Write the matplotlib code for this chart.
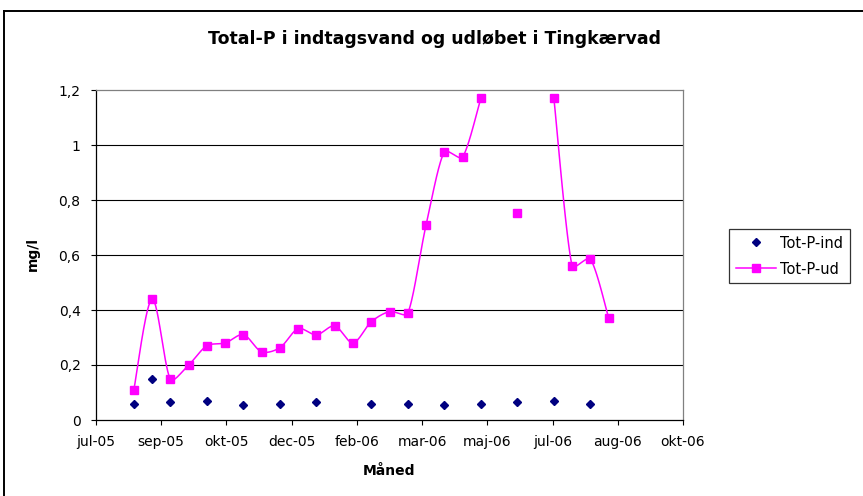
import numpy as np
import pandas as pd
import matplotlib
matplotlib.use("Agg")
import matplotlib.pyplot as plt
import matplotlib.dates as mdates
from matplotlib.lines import Line2D

# --- Data ---
TITLE = "Total-P i indtagsvand og udløbet i Tingkærvad"
X_LABEL = "Måned"
Y_LABEL = "mg/l"

ind_dates = ["2005-08-18", "2005-09-01", "2005-09-15", "2005-10-13", "2005-11-10",
             "2005-12-08", "2006-01-05", "2006-02-16", "2006-03-16", "2006-04-13",
             "2006-05-11", "2006-06-08", "2006-07-06", "2006-08-03"]
ind_values = [0.06, 0.15, 0.065, 0.07, 0.055, 0.06, 0.065, 0.06, 0.06, 0.055,
              0.06, 0.065, 0.07, 0.06]

ud_dates = ["2005-08-18", "2005-09-01", "2005-09-15", "2005-09-29", "2005-10-13",
            "2005-10-27", "2005-11-10", "2005-11-24", "2005-12-08", "2005-12-22",
            "2006-01-05", "2006-01-19", "2006-02-02", "2006-02-16", "2006-03-02",
            "2006-03-16", "2006-03-30", "2006-04-13", "2006-04-27", "2006-05-11",
            "2006-05-25", "2006-06-08", "2006-06-22", "2006-07-06", "2006-07-20",
            "2006-08-03", "2006-08-17"]
ud_values = [0.11, 0.44, 0.148, 0.20, 0.27, 0.28, 0.31, 0.248, 0.263, 0.332,
             0.31, 0.342, 0.281, 0.357, 0.394, 0.388, 0.708, 0.975, 0.956, 1.17,
             np.nan, 0.752, np.nan, 1.17, 0.56, 0.585, 0.372]

series_names = ["Tot-P-ind", "Tot-P-ud"]

x_start = "2005-07-20"
x_step_days = 50
x_tick_labels = ["jul-05", "sep-05", "okt-05", "dec-05", "feb-06",
                 "mar-06", "maj-06", "jul-06", "aug-06", "okt-06"]
y_ticks = [0, 0.2, 0.4, 0.6, 0.8, 1.0, 1.2]
y_tick_labels = ["0", "0,2", "0,4", "0,6", "0,8", "1", "1,2"]

NAVY = "#000080"
MAGENTA = "#FF00FF"


def smooth_runs(ax, x, y, n=30):
    """Excel-like smoothed line (bezier in screen space), broken at gaps."""
    x = np.asarray(x, float)
    y = np.asarray(y, float)
    ok = ~np.isnan(y)
    runs, cur = [], []
    for i in range(len(y)):
        if ok[i]:
            cur.append(i)
        elif cur:
            runs.append(cur)
            cur = []
    if cur:
        runs.append(cur)

    f = 1 / 6
    out = []
    t = np.linspace(0, 1, n)[:, None]
    for run in runs:
        if len(run) < 2:
            continue
        pts = ax.transData.transform(np.column_stack([x[run], y[run]]))
        seg = []
        for i in range(len(pts) - 1):
            p0 = pts[i - 1] if i > 0 else pts[i]
            p1, p2 = pts[i], pts[i + 1]
            p3 = pts[i + 2] if i + 2 < len(pts) else pts[i + 1]
            d01 = np.hypot(*(p1 - p0))
            d12 = np.hypot(*(p2 - p1))
            d23 = np.hypot(*(p3 - p2))
            f1 = f * 2 * d12 / (d01 + d12) if d01 > 0 else f
            f2 = f * 2 * d12 / (d12 + d23) if d23 > 0 else f
            f1 = min(f1, f)
            f2 = min(f2, f)
            c1 = p1 + (p2 - p0) * f1
            c2 = p2 - (p3 - p1) * f2
            b = ((1 - t) ** 3) * p1 + 3 * ((1 - t) ** 2) * t * c1 \
                + 3 * (1 - t) * t ** 2 * c2 + t ** 3 * p2
            seg.append(b)
        out.append(ax.transData.inverted().transform(np.vstack(seg)))
    return out


def main():
    plt.rcParams['font.family'] = ['DejaVu Sans']

    fig = plt.figure(figsize=(8.63, 4.96), dpi=100)
    fig.patch.set_facecolor("white")

    # chart-area border (only top and left show in the crop)
    fig.add_artist(Line2D([4 / 863, 4 / 863], [0, 1 - 11 / 496], transform=fig.transFigure,
                          color="black", lw=1.4))
    fig.add_artist(Line2D([4 / 863, 1], [1 - 11 / 496, 1 - 11 / 496], transform=fig.transFigure,
                          color="black", lw=1.4))

    ax = fig.add_axes([96 / 863, 1 - 420 / 496, (683 - 96) / 863, (420 - 90) / 496])

    start = pd.Timestamp(x_start)
    ticks = [start + pd.Timedelta(days=x_step_days * k) for k in range(len(x_tick_labels))]
    tick_nums = mdates.date2num(ticks)

    ind_x = mdates.date2num(pd.to_datetime(ind_dates))
    ud_x = mdates.date2num(pd.to_datetime(ud_dates))

    ax.set_xlim(tick_nums[0], tick_nums[-1])
    ax.set_ylim(0, 1.2)

    for yv in y_ticks[1:-1]:
        ax.axhline(yv, color="black", lw=0.8, zorder=1)

    for curve in smooth_runs(ax, ud_x, ud_values):
        ax.plot(curve[:, 0], curve[:, 1], color=MAGENTA, lw=1.1, zorder=2)
    ax.plot(ud_x, ud_values, ls="none", marker="s", ms=6.4, color=MAGENTA,
            mec=MAGENTA, zorder=3)
    ax.plot(ind_x, ind_values, ls="none", marker="D", ms=4.1, color=NAVY,
            mec=NAVY, zorder=3)

    ax.set_xticks(tick_nums)
    ax.set_xticklabels(x_tick_labels)
    ax.set_yticks(y_ticks)
    ax.set_yticklabels(y_tick_labels)
    ax.tick_params(axis="both", direction="out", length=3.6, width=0.8,
                   pad=7.5, labelsize=10, colors="black")

    for side in ["left", "bottom"]:
        ax.spines[side].set_color("black")
        ax.spines[side].set_linewidth(0.9)
    for side in ["top", "right"]:
        ax.spines[side].set_color("#808080")
        ax.spines[side].set_linewidth(0.9)

    fig.text(434 / 863, 1 - 44 / 496, TITLE, ha="center", va="baseline",
             fontsize=12.5, fontweight="bold")
    fig.text(389 / 863, 1 - 475 / 496, X_LABEL, ha="center", va="baseline",
             fontsize=10, fontweight="bold")
    fig.text(33 / 863, 1 - 254 / 496, Y_LABEL, ha="center", va="center",
             rotation=90, fontsize=10, fontweight="bold")

    handles = [
        Line2D([], [], ls="none", marker="D", ms=4.1, color=NAVY, mec=NAVY),
        Line2D([], [], color=MAGENTA, lw=1.1, marker="s", ms=6.4, mec=MAGENTA),
    ]
    leg = fig.legend(handles, series_names, loc="upper left",
                     bbox_to_anchor=(729 / 863, 1 - 229 / 496),
                     frameon=True, fancybox=False, fontsize=10.5,
                     handlelength=2.8, handletextpad=0.25, borderpad=0.45,
                     labelspacing=0.75, borderaxespad=0)
    leg.get_frame().set_edgecolor("black")
    leg.get_frame().set_linewidth(0.9)

    fig.savefig("out.png", dpi=100)


if __name__ == "__main__":
    main()
